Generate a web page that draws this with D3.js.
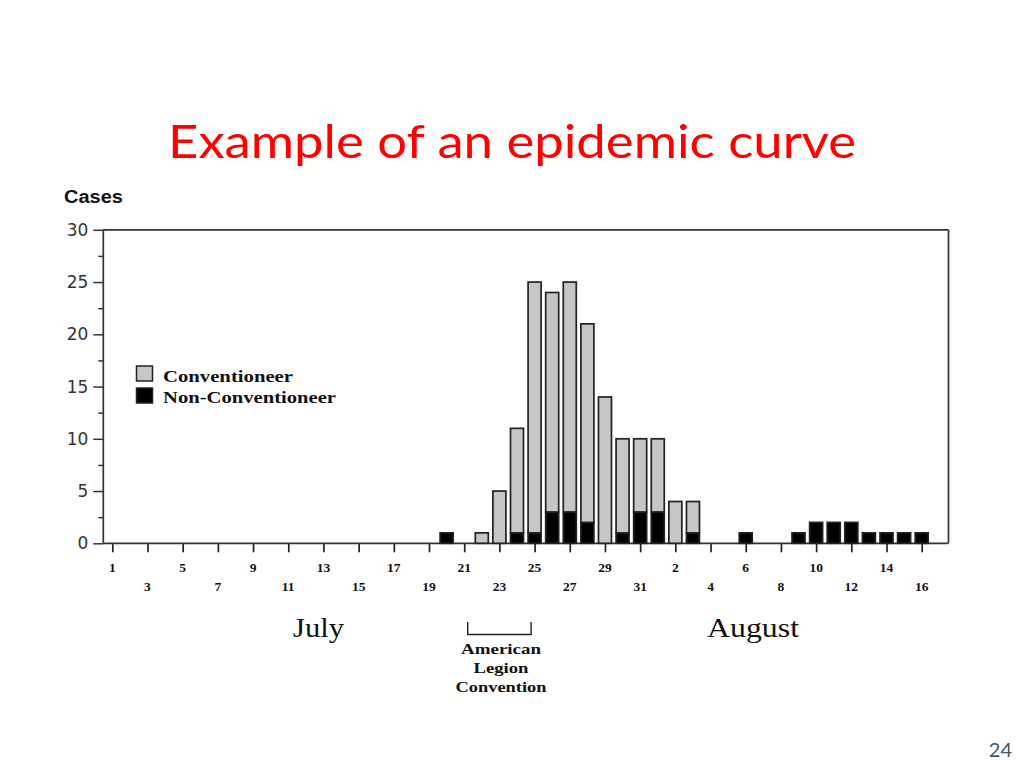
<!DOCTYPE html>
<html><head><meta charset="utf-8">
<script src="https://cdn.jsdelivr.net/npm/d3@7"></script>
<style>html,body{margin:0;padding:0;background:#fff;}svg{display:block;}</style>
</head><body>
<svg id="c" width="1024" height="768"></svg>
<script>
// ---- data ----
const caseDates = ["Jul 20","Jul 22","Jul 23","Jul 24","Jul 25","Jul 26","Jul 27","Jul 28","Jul 29","Jul 30","Jul 31","Aug 1","Aug 2","Aug 3","Aug 6","Aug 9","Aug 10","Aug 11","Aug 12","Aug 13","Aug 14","Aug 15","Aug 16"];
const conventioneer    = [0,1,5,10,24,21,22,19,14,9,7,7,4,3,0,0,0,0,0,0,0,0,0];
const nonConventioneer = [1,0,0,1,1,3,3,2,0,1,3,3,0,1,1,1,2,2,2,1,1,1,1];
const tickLabels = ["1","3","5","7","9","11","13","15","17","19","21","23","25","27","29","31","2","4","6","8","10","12","14","16"];
const yTicks = [0,5,10,15,20,25,30];
const seriesNames = ["Conventioneer","Non-Conventioneer"];
const seriesColors = ["#c6c6c6","#000000"];

// day offset from July 1
function dayIndex(s){ const [m,d]=s.split(" "); return (m==="Jul"?0:31)+(+d)-1; }

const svg = d3.select("#c");
const x = d3.scaleLinear().domain([0,46]).range([112.3,921.7]);
const y = d3.scaleLinear().domain([0,30]).range([543.3,229.8]);
const left = 103.3, right = 948.5;

// title
svg.append("text").attr("x",512).attr("y",158).attr("text-anchor","middle")
  .attr("font-family","Lato, 'Open Sans', sans-serif").attr("font-size",46)
  .attr("textLength",688).attr("lengthAdjust","spacingAndGlyphs")
  .attr("fill","#ff0000").text("Example of an epidemic curve");

// frame
const frame = svg.append("g").attr("stroke","#333").attr("fill","none").attr("stroke-width",1.7);
frame.append("line").attr("x1",left).attr("x2",right).attr("y1",y(30)).attr("y2",y(30));
frame.append("line").attr("x1",right).attr("x2",right).attr("y1",y(30)).attr("y2",y(0));
frame.append("line").attr("x1",left).attr("x2",right).attr("y1",y(0)).attr("y2",y(0));
frame.append("line").attr("x1",left).attr("x2",left).attr("y1",y(30)).attr("y2",y(0));

// y axis
const yAxis = d3.axisLeft(y).tickValues(yTicks).tickSize(10).tickPadding(5).tickFormat(d3.format("d"));
const ga = svg.append("g").attr("transform",`translate(${left},0)`).call(yAxis);
ga.select(".domain").remove();
ga.selectAll("line").attr("stroke","#333").attr("stroke-width",1.5);
ga.selectAll("text").attr("font-family","'DejaVu Sans', sans-serif").attr("font-size",17).attr("fill","#333");
const yMinor = d3.axisLeft(y).tickValues([2.5,7.5,12.5,17.5,22.5,27.5]).tickSize(5).tickFormat("");
const gm = svg.append("g").attr("transform",`translate(${left},0)`).call(yMinor);
gm.select(".domain").remove();
gm.selectAll("line").attr("stroke","#333").attr("stroke-width",1.5);

svg.append("text").attr("x",64).attr("y",203).attr("font-family","'Liberation Sans', Arial, sans-serif")
  .attr("font-weight","bold").attr("font-size",18).attr("textLength",59).attr("lengthAdjust","spacingAndGlyphs")
  .attr("fill","#111").text("Cases");

// x axis
const tickIdx = tickLabels.map((_,i)=>i*2);
const xAxis = d3.axisBottom(x).tickValues(tickIdx).tickSize(9).tickFormat("");
const gx = svg.append("g").attr("transform",`translate(0,${y(0)})`).call(xAxis);
gx.select(".domain").remove();
gx.selectAll("line").attr("stroke","#222").attr("stroke-width",1.7);
svg.append("g").selectAll("text").data(tickLabels).join("text")
  .attr("x",(d,i)=>x(i*2)).attr("y",(d,i)=> i%2===0 ? 572 : 591)
  .attr("text-anchor","middle").attr("font-family","'Liberation Serif', 'Times New Roman', serif")
  .attr("font-weight","bold").attr("font-size",13.5).attr("fill","#111").text(d=>d);

// bars
const rows = caseDates.map((d,i)=>({i:dayIndex(d), non:nonConventioneer[i], conv:conventioneer[i]}));
const bw = 13;
const bars = svg.append("g").attr("stroke","#222").attr("stroke-width",1.7);
rows.forEach(r=>{
  if(r.non>0) bars.append("rect").attr("x",x(r.i)-bw/2).attr("width",bw)
     .attr("y",y(r.non)).attr("height",y(0)-y(r.non)).attr("fill",seriesColors[1]);
  if(r.conv>0) bars.append("rect").attr("x",x(r.i)-bw/2).attr("width",bw)
     .attr("y",y(r.non+r.conv)).attr("height",y(r.non)-y(r.non+r.conv)).attr("fill",seriesColors[0]);
});

// legend
const lg = svg.append("g");
const legY = [366,388], legBase=[381.5,403], legLen=[130,173];
seriesNames.forEach((n,i)=>{
  lg.append("rect").attr("x",136.5).attr("y",legY[i]).attr("width",16).attr("height",15)
    .attr("fill",seriesColors[i]).attr("stroke","#222").attr("stroke-width",1.5);
  lg.append("text").attr("x",163).attr("y",legBase[i]).attr("font-family","'Liberation Serif', serif")
    .attr("font-weight","bold").attr("font-size",16).attr("textLength",legLen[i]).attr("lengthAdjust","spacingAndGlyphs")
    .attr("fill","#111").text(n);
});

// month labels
svg.append("text").attr("x",293).attr("y",637).attr("font-family","'Liberation Serif', serif")
  .attr("font-size",27).attr("textLength",51).attr("lengthAdjust","spacingAndGlyphs").attr("fill","#111").text("July");
svg.append("text").attr("x",707).attr("y",637).attr("font-family","'Liberation Serif', serif")
  .attr("font-size",27).attr("textLength",92).attr("lengthAdjust","spacingAndGlyphs").attr("fill","#111").text("August");

// convention bracket (Jul 21 - Jul 25)
const bx1 = x(dayIndex("Jul 21"))+3.5, bx2 = x(dayIndex("Jul 25"))-3.5;
svg.append("path").attr("d",`M${bx1},622V634.5H${bx2}V622`).attr("fill","none").attr("stroke","#222").attr("stroke-width",1.4);
const conv = [["American",654,80],["Legion",673,55],["Convention",692,91]];
conv.forEach(([t,yy,w])=>{
  svg.append("text").attr("x",501).attr("y",yy).attr("text-anchor","middle")
    .attr("font-family","'Liberation Serif', serif").attr("font-weight","bold").attr("font-size",15)
    .attr("textLength",w).attr("lengthAdjust","spacingAndGlyphs").attr("fill","#111").text(t);
});

// page number
svg.append("text").attr("x",1012).attr("y",757).attr("text-anchor","end")
  .attr("font-family","Lato, sans-serif").attr("font-size",20).attr("fill","#44546a").text("24");
</script>
</body></html>
